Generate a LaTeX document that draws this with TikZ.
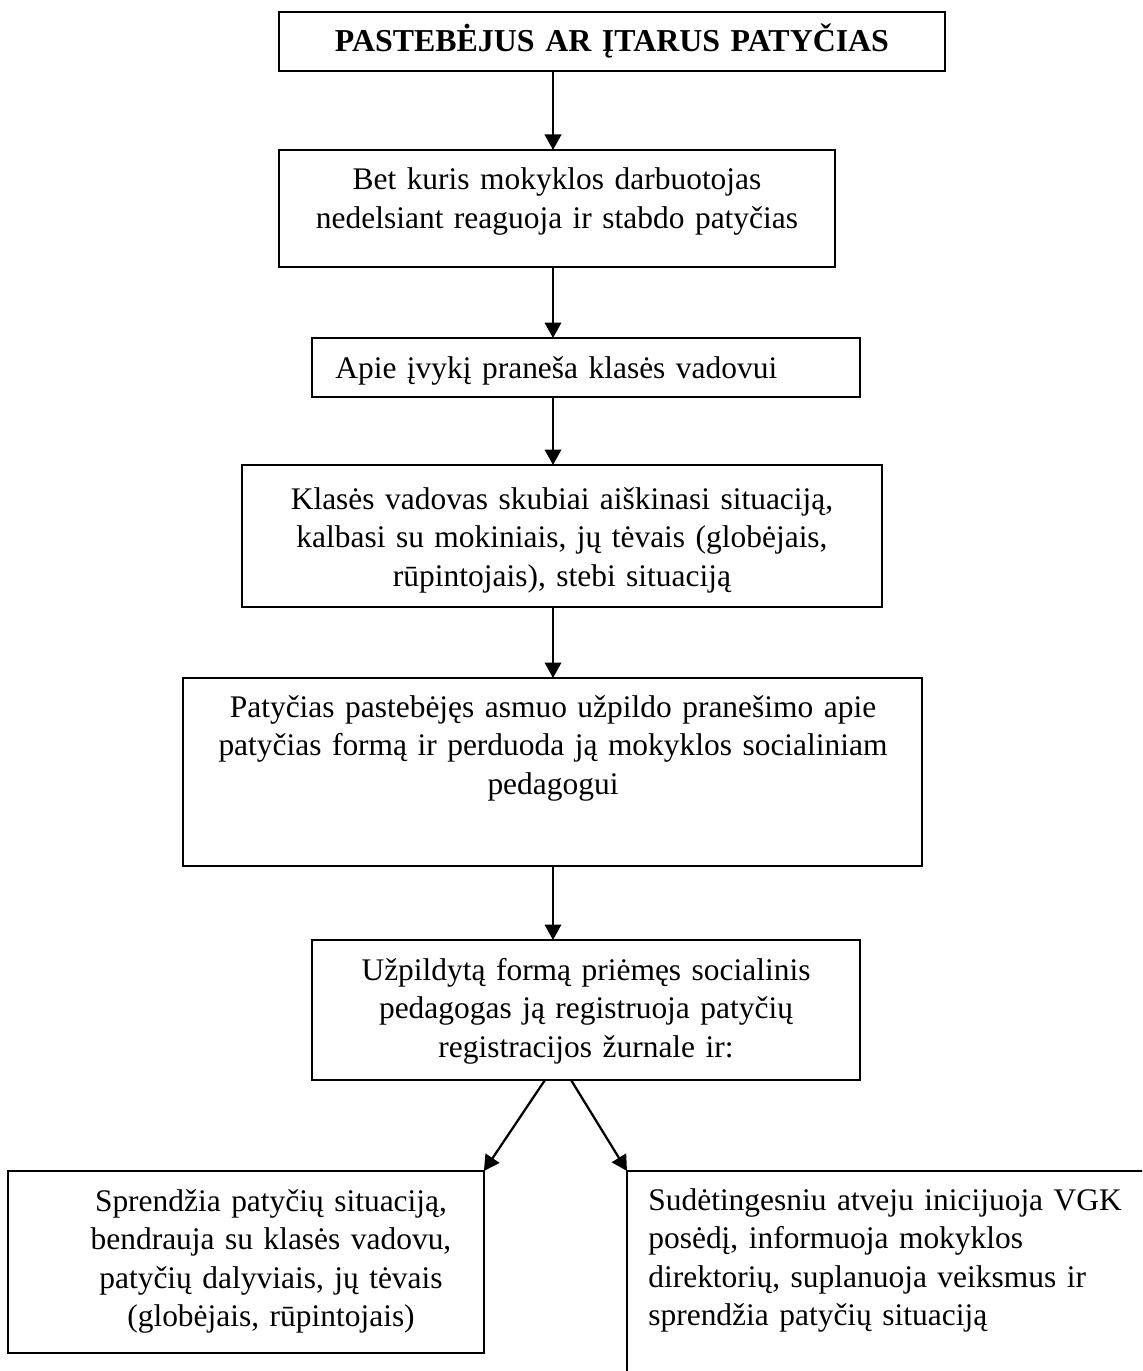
\documentclass[tikz,border=0pt]{standalone}
\usepackage{fontspec}
\setmainfont{Liberation Serif}
\usetikzlibrary{arrows.meta}
\newcommand{\boxline}{0.035cm}
\newcommand{\txtsize}{\fontsize{17.9}{22}\selectfont}

\begin{document}
\begin{tikzpicture}[x=0.02cm, y=-0.02cm,
    box/.style={draw, line width=\boxline, anchor=north west, inner sep=0pt, outer sep=0pt},
    txt/.style={anchor=base, align=center, text width=15cm, inner sep=0pt, font=\txtsize},
    ltxt/.style={anchor=base west, align=left, text width=11cm, inner sep=0pt, font=\txtsize},
    arr/.style={line width=0.045cm, -{Triangle[length=0.31cm, width=0.33cm]}}]
      %%  page frame %%
      \useasboundingbox (0,0) rectangle (1142,1371);
      \clip (0,0) rectangle (1142,1371);

      %% boxes
      \node (top) at (279,12)  [box, minimum width=13.32cm, minimum height=1.18cm] {};
      \node (b2) at (279,150)  [box, minimum width=11.12cm, minimum height=2.34cm] {};
      \node (b3) at (312,338)  [box, minimum width=10.96cm, minimum height=1.18cm] {};
      \node (b4) at (242,465)  [box, minimum width=12.80cm, minimum height=2.84cm] {};
      \node (b5) at (183,678)  [box, minimum width=14.78cm, minimum height=3.76cm] {};
      \node (b6) at (312,940)  [box, minimum width=10.96cm, minimum height=2.80cm] {};
      \node (left) at (8,1171)  [box, minimum width=9.52cm, minimum height=3.64cm] {};
      \node (right) at (627,1171)  [box, minimum width=10.86cm, minimum height=4.60cm] {};

      %% texts
      \node (ttop) at (612,52) [txt, font=\fontsize{18.15}{22}\selectfont\bfseries] {PASTEBĖJUS AR ĮTARUS PATYČIAS};
      \node (t2) at (557,190) [txt] {Bet kuris mokyklos darbuotojas\\ nedelsiant reaguoja ir stabdo patyčias};
      \node (t3) at (335,378) [ltxt] {Apie įvykį praneša klasės vadovui};
      \node (t4) at (562,509) [txt] {Klasės vadovas skubiai aiškinasi situaciją,\\ kalbasi su mokiniais, jų tėvais (globėjais,\\ rūpintojais), stebi situaciją};
      \node (t5) at (553,717) [txt] {Patyčias pastebėjęs asmuo užpildo pranešimo apie\\ patyčias formą ir perduoda ją mokyklos socialiniam\\ pedagogui};
      \node (t6) at (586,980) [txt] {Užpildytą formą priėmęs socialinis\\ pedagogas ją registruoja patyčių\\ registracijos žurnale ir:};
      \node (tleft) at (271,1211) [txt] {Sprendžia patyčių situaciją,\\ bendrauja su klasės vadovu,\\ patyčių dalyviais, jų tėvais\\ (globėjais, rūpintojais)};
      \node (tright) at (648,1210) [ltxt] {Sudėtingesniu atveju inicijuoja VGK\\ posėdį, informuoja mokyklos\\ direktorių, suplanuoja veiksmus ir\\ sprendžia patyčių situaciją};

      %% arrows
      \coordinate (ax) at (553,0);
      \coordinate (dl) at (545,0);
      \coordinate (dr) at (571,0);
      \draw[arr] (top.south -| ax) -- (b2.north -| ax);
      \draw[arr] (b2.south -| ax) -- (b3.north -| ax);
      \draw[arr] (b3.south -| ax) -- (b4.north -| ax);
      \draw[arr] (b4.south -| ax) -- (b5.north -| ax);
      \draw[arr] (b5.south -| ax) -- (b6.north -| ax);
      \draw[arr] (b6.south -| dl) -- (left.north east);
      \draw[arr] (b6.south -| dr) -- (right.north west);
\end{tikzpicture}
\end{document}
